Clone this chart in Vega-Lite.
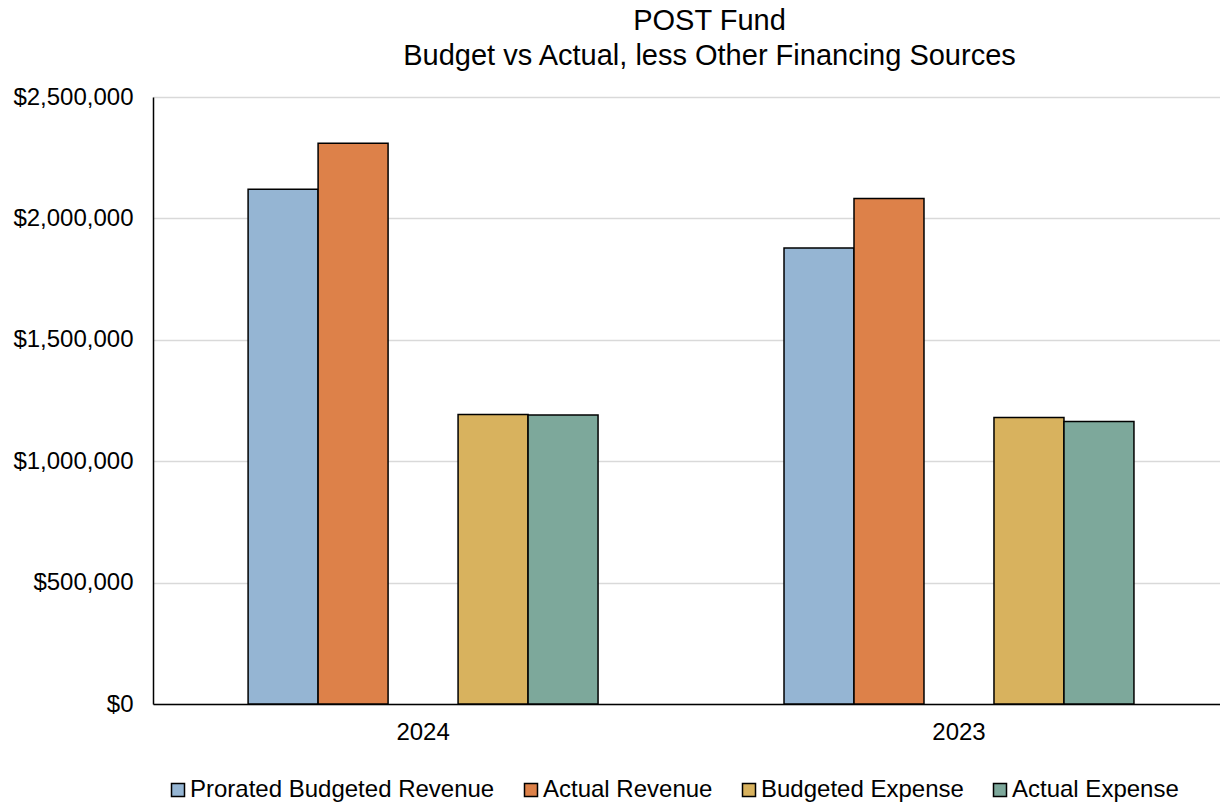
{
  "$schema": "https://vega.github.io/schema/vega-lite/v6.json",
  "autosize": "none",
  "width": 1067,
  "height": 607,
  "padding": {"left": 153, "top": 97, "right": 0, "bottom": 100},
  "background": "white",
  "config": {
    "font": "Liberation Sans",
    "view": {"stroke": null},
    "axis": {"labelFont": "Liberation Sans", "labelColor": "#000000"},
    "legend": {"labelFont": "Liberation Sans"}
  },
  "title": {
    "text": ["POST Fund", "Budget vs Actual, less Other Financing Sources"],
    "fontSize": 29,
    "fontWeight": "normal",
    "color": "#000000",
    "lineHeight": 35,
    "anchor": "middle",
    "frame": "group",
    "baseline": "bottom",
    "dx": 23,
    "offset": -15
  },
  "data": {
    "values": [
      {"year": "2024", "series": "Prorated Budgeted Revenue", "value": 2120000},
      {"year": "2024", "series": "Actual Revenue", "value": 2310000},
      {"year": "2024", "series": "Budgeted Expense", "value": 1192000},
      {"year": "2024", "series": "Actual Expense", "value": 1190000},
      {"year": "2023", "series": "Prorated Budgeted Revenue", "value": 1878000},
      {"year": "2023", "series": "Actual Revenue", "value": 2082000},
      {"year": "2023", "series": "Budgeted Expense", "value": 1180000},
      {"year": "2023", "series": "Actual Expense", "value": 1164000}
    ]
  },
  "mark": {"type": "bar", "stroke": "#000000", "strokeWidth": 1.5},
  "encoding": {
    "x": {
      "field": "year",
      "type": "nominal",
      "sort": ["2024", "2023"],
      "scale": {"paddingInner": 0.347, "paddingOuter": 0.169, "align": 0.525},
      "axis": {
        "title": null,
        "labelAngle": 0,
        "labelFontSize": 24,
        "labelPadding": 16,
        "ticks": false,
        "tickSize": 0,
        "domainColor": "#000000",
        "domainWidth": 1.5,
        "grid": false
      }
    },
    "xOffset": {
      "field": "series",
      "type": "nominal",
      "scale": {
        "domain": ["Prorated Budgeted Revenue", "Actual Revenue", "gap", "Budgeted Expense", "Actual Expense"],
        "paddingInner": 0,
        "paddingOuter": 0
      }
    },
    "y": {
      "field": "value",
      "type": "quantitative",
      "scale": {"domain": [0, 2500000], "nice": false},
      "axis": {
        "title": null,
        "values": [0, 500000, 1000000, 1500000, 2000000, 2500000],
        "format": "$,.0f",
        "labelFontSize": 24,
        "labelPadding": 20,
        "ticks": false,
        "tickSize": 0,
        "domainColor": "#000000",
        "domainWidth": 1.5,
        "gridColor": "#D9D9D9",
        "gridWidth": 1.5
      }
    },
    "color": {
      "field": "series",
      "type": "nominal",
      "scale": {
        "domain": ["Prorated Budgeted Revenue", "Actual Revenue", "Budgeted Expense", "Actual Expense"],
        "range": ["#95B5D3", "#DD8149", "#D8B25E", "#7DA89B"]
      },
      "legend": {
        "title": null,
        "orient": "none",
        "direction": "horizontal",
        "columns": 4,
        "legendX": 13,
        "legendY": 681,
        "symbolType": "square",
        "symbolSize": 169,
        "symbolStrokeColor": "#000000",
        "symbolStrokeWidth": 1.5,
        "symbolOpacity": 1,
        "labelFontSize": 24,
        "labelLimit": 0,
        "labelColor": "#000000",
        "labelOffset": 0,
        "columnPadding": 24
      }
    }
  }
}
